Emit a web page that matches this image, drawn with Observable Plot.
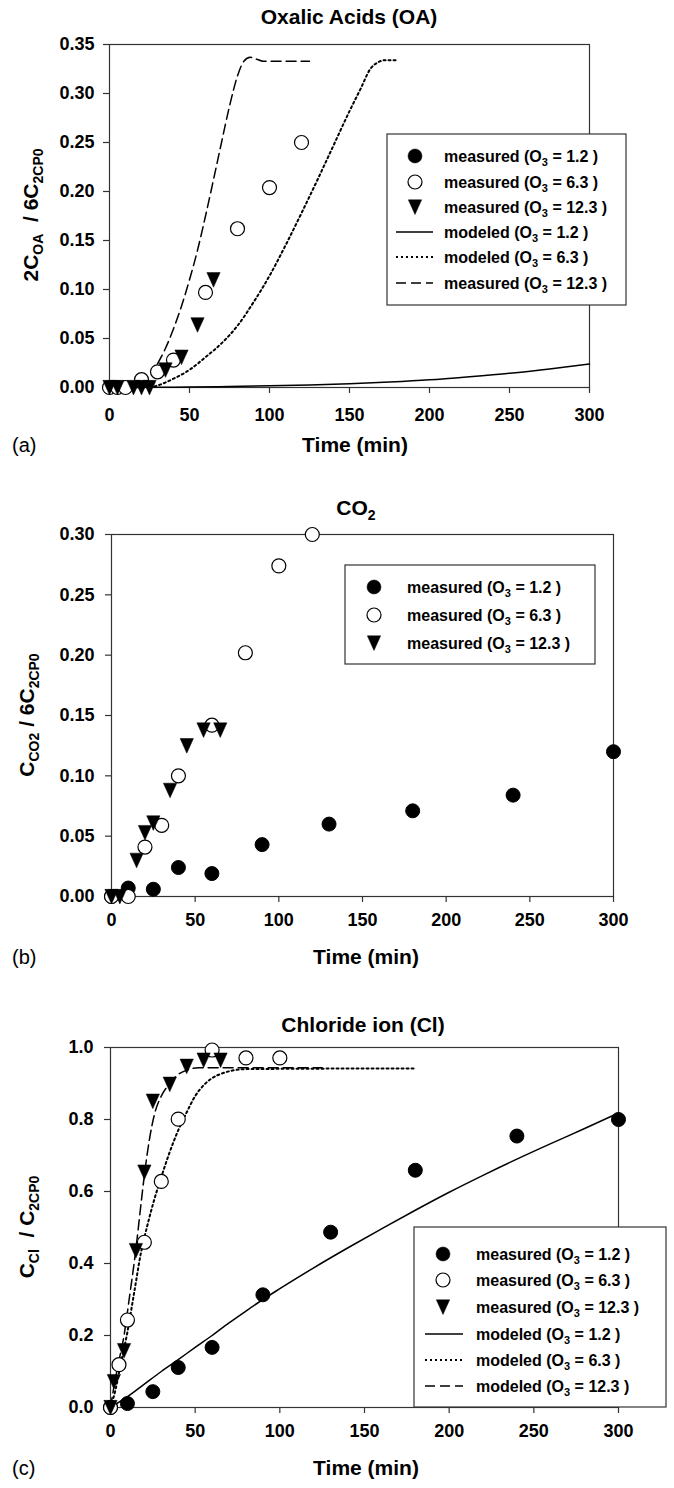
<!DOCTYPE html>
<html>
<head>
<meta charset="utf-8">
<script src="https://cdn.jsdelivr.net/npm/d3@7"></script>
<script src="https://cdn.jsdelivr.net/npm/@observablehq/plot@0.6"></script>
<style>
  html, body { margin: 0; padding: 0; background: #fff; }
  #chart svg { display: block; }
</style>
</head>
<body>
<div id="chart"></div>
<script>
const FONT = "'Liberation Sans', Arial, Helvetica, sans-serif";
const xTicks = [0, 50, 100, 150, 200, 250, 300];

// ---------- Panel (a): Oxalic acids ----------
const aYTicks = [0, 0.05, 0.10, 0.15, 0.20, 0.25, 0.30, 0.35];
const aOpenT = [0, 5, 10, 20, 30, 40, 60, 80, 100, 120];
const aOpenV = [0, 0, 0, 0.008, 0.016, 0.028, 0.097, 0.162, 0.204, 0.250];
const aTriT = [0, 5, 15, 20, 25, 35, 45, 55, 65];
const aTriV = [0, 0, 0, 0, 0, 0.018, 0.031, 0.064, 0.110];
const aSolidT = [0, 25, 50, 75, 100, 125, 150, 175, 200, 225, 250, 275, 300];
const aSolidV = [0, 0.0002, 0.0005, 0.001, 0.0017, 0.0025, 0.0037, 0.0055, 0.0078, 0.011, 0.0146, 0.019, 0.024];
const aDotT = [25, 30, 40, 50, 60, 70, 80, 90, 100, 110, 120, 130, 140, 150, 157, 163, 168, 172, 180];
const aDotV = [0, 0.002, 0.009, 0.018, 0.031, 0.045, 0.063, 0.087, 0.114, 0.145, 0.178, 0.212, 0.247, 0.282, 0.305, 0.325, 0.332, 0.334, 0.334];
const aDashT = [30, 35, 40, 45, 50, 55, 60, 65, 70, 75, 80, 84, 88, 92, 96, 125];
const aDashV = [0.024, 0.040, 0.060, 0.083, 0.110, 0.140, 0.175, 0.212, 0.250, 0.287, 0.318, 0.333, 0.337, 0.335, 0.333, 0.333];

// ---------- Panel (b): CO2 ----------
const bYTicks = [0, 0.05, 0.10, 0.15, 0.20, 0.25, 0.30];
const bFillT = [0, 10, 25, 40, 60, 90, 130, 180, 240, 300];
const bFillV = [0, 0.007, 0.006, 0.024, 0.019, 0.043, 0.060, 0.071, 0.084, 0.120];
const bOpenT = [0, 10, 20, 30, 40, 60, 80, 100, 120];
const bOpenV = [0, 0, 0.041, 0.059, 0.100, 0.142, 0.202, 0.274, 0.300];
const bTriT = [0, 5, 15, 20, 25, 35, 45, 55, 65];
const bTriV = [0, 0, 0.030, 0.053, 0.061, 0.088, 0.125, 0.138, 0.138];

// ---------- Panel (c): Chloride ion ----------
const cYTicks = [0, 0.2, 0.4, 0.6, 0.8, 1.0];
const cFillT = [0, 10, 25, 40, 60, 90, 130, 180, 240, 300];
const cFillV = [0, 0.011, 0.044, 0.111, 0.167, 0.313, 0.487, 0.659, 0.754, 0.800];
const cOpenT = [0, 5, 10, 20, 30, 40, 60, 80, 100];
const cOpenV = [0, 0.119, 0.243, 0.459, 0.628, 0.801, 0.993, 0.971, 0.971];
const cTriT = [0, 2, 8, 15, 20, 25, 35, 45, 55, 65];
const cTriV = [0, 0.072, 0.158, 0.436, 0.654, 0.851, 0.898, 0.948, 0.965, 0.965];
const cSolidT = [0, 10, 20, 30, 40, 50, 60, 70, 80, 90, 100, 120, 140, 160, 180, 200, 220, 240, 260, 280, 300];
const cSolidV = [0, 0.03, 0.065, 0.10, 0.133, 0.167, 0.20, 0.235, 0.268, 0.300, 0.330, 0.388, 0.443, 0.496, 0.548, 0.598, 0.645, 0.690, 0.733, 0.775, 0.818];
const cDotT = [0, 3, 6, 10, 14, 18, 22, 26, 30, 35, 40, 45, 50, 55, 60, 66, 72, 80, 180];
const cDotV = [0, 0.05, 0.12, 0.21, 0.32, 0.43, 0.51, 0.58, 0.64, 0.71, 0.77, 0.82, 0.865, 0.895, 0.915, 0.928, 0.936, 0.94, 0.942];
const cDashT = [0, 2.5, 5, 8, 11, 15, 18, 20, 23, 26, 30, 35, 40, 45, 52, 125];
const cDashV = [0, 0.07, 0.13, 0.2, 0.3, 0.44, 0.565, 0.645, 0.745, 0.815, 0.865, 0.9, 0.925, 0.937, 0.944, 0.944];

const o3Levels = ["1.2", "6.3", "12.3"];

// down-pointing triangle symbol
const triDown = {
  draw(ctx, size) {
    const r = Math.sqrt(size / Math.PI);
    const w = r * 0.95, h = r * 1.02;
    ctx.moveTo(-w, -h);
    ctx.lineTo(w, -h);
    ctx.lineTo(0, h * 1.05);
    ctx.closePath();
  }
};

const pts = (t, v) => t.map((x, i) => ({t: x, v: v[i]}));

const DOT_DASH = "2,3";
const LONG_DASH = "10,5";

function buildPanel(cfg) {
  const marks = [
    Plot.frame({stroke: "#333", strokeWidth: 1.2}),
    Plot.axisX({ticks: xTicks, tickSize: 6, tickPadding: cfg.xPad, fontSize: 18, label: null, stroke: "#333", strokeWidth: 1.2}),
    Plot.axisY({ticks: cfg.yTicks, tickSize: 6, tickPadding: cfg.yPad, fontSize: 18, label: null, tickFormat: cfg.yFmt, stroke: "#333", strokeWidth: 1.2})
  ];
  if (cfg.solid) marks.push(Plot.line(cfg.solid, {x: "t", y: "v", stroke: "black", strokeWidth: 1.5, curve: "monotone-x"}));
  if (cfg.dotted) marks.push(Plot.line(cfg.dotted, {x: "t", y: "v", stroke: "black", strokeWidth: 2, strokeDasharray: DOT_DASH, curve: "monotone-x"}));
  if (cfg.dashed) marks.push(Plot.line(cfg.dashed, {x: "t", y: "v", stroke: "black", strokeWidth: 1.5, strokeDasharray: LONG_DASH, curve: "monotone-x"}));
  if (cfg.filled) marks.push(Plot.dot(cfg.filled, {x: "t", y: "v", r: 7, fill: "black", stroke: "black", strokeWidth: 1}));
  if (cfg.open) marks.push(Plot.dot(cfg.open, {x: "t", y: "v", r: 7, fill: "white", stroke: "black", strokeWidth: 1.2}));
  if (cfg.tri) marks.push(Plot.dot(cfg.tri, {x: "t", y: "v", r: 7, symbol: triDown, fill: "black", stroke: "black", strokeWidth: 0.5}));

  const svg = Plot.plot({
    width: 674,
    height: cfg.height,
    marginLeft: cfg.m[0], marginRight: cfg.m[1], marginTop: cfg.m[2], marginBottom: cfg.m[3],
    x: {domain: [0, 300]},
    y: {domain: cfg.yDomain},
    style: {fontFamily: FONT, fontWeight: "bold", color: "black", background: "white"},
    marks
  });

  const s = d3.select(svg);
  const title = s.append("text").attr("x", cfg.title.x).attr("y", cfg.title.y).attr("dy", "0.35em")
    .attr("text-anchor", "middle").attr("font-size", 21).attr("font-weight", "bold").attr("font-family", FONT);
  addParts(title, cfg.title.parts, 21, 14, 5);
  const yl = s.append("text").attr("transform", `translate(${cfg.ylab.x},${cfg.ylab.y}) rotate(-90)`)
    .attr("dy", "0.35em").attr("text-anchor", "middle").attr("font-size", 21).attr("font-weight", "bold").attr("font-family", FONT);
  addParts(yl, cfg.ylab.parts, 21, 14, 5);
  s.append("text").attr("x", cfg.xlab.x).attr("y", cfg.xlab.y).attr("dy", "0.35em")
    .attr("text-anchor", "middle").attr("font-size", 21).attr("font-weight", "bold").attr("font-family", FONT)
    .text("Time (min)");
  s.append("text").attr("x", 12).attr("y", cfg.xlab.y).attr("dy", "0.35em")
    .attr("text-anchor", "start").attr("font-size", 20).attr("font-weight", "normal").attr("font-family", FONT)
    .text(cfg.letter);
  drawLegend(s, cfg.legend);
  return svg;
}

function addParts(textSel, parts, big, small, shift) {
  let down = false;
  parts.forEach(p => {
    const ts = textSel.append("tspan").text(p.t);
    if (p.sub && !down) { ts.attr("font-size", small).attr("dy", shift); down = true; }
    else if (p.sub) { ts.attr("font-size", small); }
    else if (down) { ts.attr("font-size", big).attr("dy", -shift); down = false; }
  });
}

function drawLegend(s, L) {
  const g = s.append("g").attr("font-family", FONT).attr("font-weight", "bold");
  g.append("rect").attr("x", L.x).attr("y", L.y).attr("width", L.w).attr("height", L.h)
    .attr("fill", "white").attr("stroke", "#333").attr("stroke-width", 1.2);
  L.entries.forEach((e, i) => {
    const y = L.rows[i];
    if (e.type === "line") {
      g.append("line").attr("x1", L.lx0).attr("x2", L.lx1).attr("y1", y).attr("y2", y)
        .attr("stroke", "black").attr("stroke-width", e.dash === DOT_DASH ? 2 : 1.5)
        .attr("stroke-dasharray", e.dash || null);
    } else {
      g.append("path").attr("transform", `translate(${L.sx},${y})`)
        .attr("d", d3.symbol(e.symbol, Math.PI * 49)())
        .attr("fill", e.fill).attr("stroke", "black").attr("stroke-width", e.fill === "white" ? 1.2 : 0.5);
    }
    const t = g.append("text").attr("x", L.tx).attr("y", y).attr("dy", "0.35em")
      .attr("text-anchor", "start").attr("font-size", 16);
    t.append("tspan").text(e.label + " (O");
    t.append("tspan").attr("font-size", 11).attr("dy", 4).text("3");
    t.append("tspan").attr("font-size", 16).attr("dy", -4).text(" = " + e.o3 + " )");
  });
}

const measuredEntries = [
  {label: "measured", o3: o3Levels[0], type: "dot", symbol: d3.symbolCircle, fill: "black"},
  {label: "measured", o3: o3Levels[1], type: "dot", symbol: d3.symbolCircle, fill: "white"},
  {label: "measured", o3: o3Levels[2], type: "dot", symbol: triDown, fill: "black"}
];

const chart = document.getElementById("chart");

chart.appendChild(buildPanel({
  height: 470,
  m: [109, 85, 44, 83],
  yDomain: [0, 0.35],
  yTicks: aYTicks,
  yFmt: d3.format(".2f"),
  xPad: 14.5, yPad: 9,
  open: pts(aOpenT, aOpenV),
  tri: pts(aTriT, aTriV),
  solid: pts(aSolidT, aSolidV),
  dotted: pts(aDotT, aDotV),
  dashed: pts(aDashT, aDashV),
  title: {x: 349, y: 17, parts: [{t: "Oxalic Acids (OA)"}]},
  ylab: {x: 31, y: 215, parts: [{t: "2C"}, {t: "OA", sub: true}, {t: "  / 6C"}, {t: "2CP0", sub: true}]},
  xlab: {x: 355, y: 445},
  letter: "(a)",
  legend: {
    x: 387, y: 134, w: 239, h: 171,
    rows: [156, 182, 207, 232, 257, 283],
    sx: 415, lx0: 396, lx1: 433, tx: 444,
    entries: [...measuredEntries,
      {label: "modeled", o3: o3Levels[0], type: "line"},
      {label: "modeled", o3: o3Levels[1], type: "line", dash: DOT_DASH},
      {label: "measured", o3: o3Levels[2], type: "line", dash: LONG_DASH}]
  }
}));

chart.appendChild(buildPanel({
  height: 510,
  m: [111, 61, 64, 84],
  yDomain: [0, 0.30],
  yTicks: bYTicks,
  yFmt: d3.format(".2f"),
  xPad: 11, yPad: 11,
  filled: pts(bFillT, bFillV),
  open: pts(bOpenT, bOpenV),
  tri: pts(bTriT, bTriV),
  title: {x: 356, y: 38, parts: [{t: "CO"}, {t: "2", sub: true}]},
  ylab: {x: 27, y: 245, parts: [{t: "C"}, {t: "CO2", sub: true}, {t: " / 6C"}, {t: "2CP0", sub: true}]},
  xlab: {x: 366, y: 487},
  letter: "(b)",
  legend: {
    x: 345, y: 95, w: 250, h: 99,
    rows: [117, 145, 173],
    sx: 374, lx0: 356, lx1: 392, tx: 407,
    entries: measuredEntries
  }
}));

chart.appendChild(buildPanel({
  height: 508,
  m: [110, 56, 67, 81],
  yDomain: [0, 1.0],
  yTicks: cYTicks,
  yFmt: d3.format(".1f"),
  xPad: 10.5, yPad: 11,
  filled: pts(cFillT, cFillV),
  open: pts(cOpenT, cOpenV),
  tri: pts(cTriT, cTriV),
  solid: pts(cSolidT, cSolidV),
  dotted: pts(cDotT, cDotV),
  dashed: pts(cDashT, cDashV),
  title: {x: 363, y: 45, parts: [{t: "Chloride ion (Cl)"}]},
  ylab: {x: 27, y: 247, parts: [{t: "C"}, {t: "Cl", sub: true}, {t: "  / C"}, {t: "2CP0", sub: true}]},
  xlab: {x: 366, y: 488},
  letter: "(c)",
  legend: {
    x: 414, y: 247, w: 252, h: 180,
    rows: [274, 300, 327, 354, 380, 406],
    sx: 443, lx0: 425, lx1: 463, tx: 476,
    entries: [...measuredEntries,
      {label: "modeled", o3: o3Levels[0], type: "line"},
      {label: "modeled", o3: o3Levels[1], type: "line", dash: DOT_DASH},
      {label: "modeled", o3: o3Levels[2], type: "line", dash: LONG_DASH}]
  }
}));
</script>
</body>
</html>
